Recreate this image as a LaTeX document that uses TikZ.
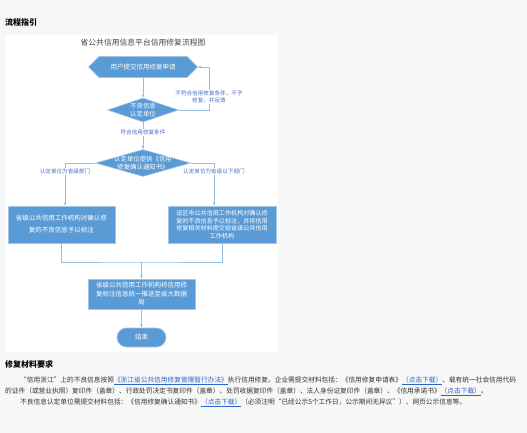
\documentclass[tikz,border=0pt]{standalone}
\usepackage{fontspec}
\setmainfont{Noto Sans CJK SC}
\usetikzlibrary{arrows.meta,calc,positioning,shapes.geometric,shapes.symbols}
\definecolor{pagebg}{RGB}{247,247,247}
\definecolor{boxblue}{RGB}{91,155,213}
\definecolor{boxedge}{RGB}{160,198,232}
\definecolor{flowline}{RGB}{150,190,228}
\definecolor{labelblue}{RGB}{68,114,196}
\definecolor{bodytext}{RGB}{51,51,51}
\definecolor{titlegray}{RGB}{70,70,70}
\definecolor{linkblue}{RGB}{45,100,200}
\newcommand{\linktext}[1]{\textcolor{linkblue}{\underline{#1}}}
\tikzset{
  flowbox/.style={rectangle,draw=boxedge,line width=0.6pt,fill=boxblue,text=white,
    font=\fontsize{6.5}{8.5}\selectfont,align=center,inner sep=1pt},
  entry/.style={signal,signal to=west and east,draw=boxedge,line width=0.6pt,
    fill=boxblue,text=white,font=\fontsize{6.5}{8}\selectfont,
    minimum width=109pt,minimum height=21pt,inner sep=0pt},
  decision/.style={diamond,draw=boxedge,line width=0.6pt,fill=boxblue,inner sep=0pt},
  decisiontext/.style={text=white,font=\fontsize{6.4}{7.8}\selectfont,align=center,inner sep=0pt},
  terminal/.style={rectangle,rounded corners=9.5pt,draw=boxedge,line width=0.6pt,
    fill=boxblue,text=white,font=\fontsize{6.5}{8}\selectfont,
    minimum width=49pt,minimum height=19pt},
  flow/.style={-{Latex[length=3pt,width=3pt]},draw=flowline,line width=0.7pt},
  joinline/.style={draw=flowline,line width=0.7pt},
  flowlabel/.style={font=\fontsize{5.6}{7}\selectfont,text=labelblue,fill=white,
    align=center,inner sep=1pt},
  heading/.style={font=\bfseries\fontsize{8}{9}\selectfont,text=black,anchor=west,inner sep=0pt},
  bodyline/.style={font=\fontsize{6.7}{8}\selectfont,text=bodytext,anchor=west,inner sep=0pt}
}

\begin{document}
\begin{tikzpicture}[x=1pt,y=-1pt]
  \useasboundingbox (0,0) rectangle (527,433);
  \fill[pagebg] (0,0) rectangle (527,433);
  \fill[white] (5,35) rectangle (278,352);
  % headings
  \node[heading] (flowhead) at (5,22) {流程指引};
  \node[font=\fontsize{7.8}{9}\selectfont,text=titlegray] (charttitle) at (143,43)
    {省公共信用信息平台信用修复流程图};
  % flow chart
  \node[entry] (apply) at (143,67) {用户提交信用修复申请};
  \node[decision,minimum width=71pt,minimum height=24pt,
    label={[decisiontext]center:不良信息\\认定单位}] (unit) at (143,110) {};
  \node[decision,minimum width=95pt,minimum height=27pt,
    label={[decisiontext]center:认定单位提供《信用\\修复确认通知书》}] (notice) at (143,163) {};
  \node[flowbox,minimum width=107pt,minimum height=37pt,
    font=\fontsize{6.5}{12}\selectfont] (provmark) at (61.5,224.5)
    {省级公共信用工作机构对确认修\\复的不良信息予以标注};
  \node[flowbox,minimum width=108pt,minimum height=37pt,
    font=\fontsize{6.1}{7.6}\selectfont] (citymark) at (222,224.5)
    {设区市公共信用工作机构对确认修\\复的不良信息予以标注，并将信用\\修复相关材料提交给省级公共信用\\工作机构};
  \node[flowbox,minimum width=107pt,minimum height=30pt] (push) at (141.5,294)
    {省级公共信用工作机构将信用修\\复标注信息统一推送至省大数据\\局};
  \node[terminal] (finish) at (141.5,337.5) {结束};
  \coordinate (loop) at (209,110);
  \coordinate (merge) at (141.5,262);
  \draw[flow] (apply.south) -- (unit.north);
  \draw[flow] (unit.east) -- (loop) |- node[flowlabel,pos=0.15]
    {不符合信用修复条件，不予\\修复，并反馈} (apply.east);
  \draw[flow] (unit.south) -- node[flowlabel,pos=0.38] {符合信用修复条件} (notice.north);
  \draw[flow] (notice.west) -| node[flowlabel,pos=0.6] {认定单位为省级部门}
    ([xshift=3.5pt]provmark.north);
  \draw[flow] (notice.east) -| node[flowlabel,pos=0.6] {认定单位为省级以下部门}
    ([xshift=-8pt]citymark.north);
  \draw[joinline] (provmark.south) |- (merge) -| (citymark.south);
  \draw[flow] (merge) -- (push.north);
  \draw[flow] (push.south) -- (finish.north);
  % requirements text
  \node[heading] (reqhead) at (5,364) {修复材料要求};
  \node[bodyline] (req1) at (20,381) {“信用浙江”上的不良信息按照\linktext{《浙江省公共信用修复管理暂行办法》}执行信用修复。企业需提交材料包括：《信用修复申请表》\linktext{（点击下载）}、载有统一社会信用代码};
  \node[bodyline] (req2) at (5,392) {的证件（或营业执照）复印件（盖章）、行政处罚决定书复印件（盖章）、处罚收据复印件（盖章）、法人身份证复印件（盖章）、《信用承诺书》\linktext{（点击下载）}。};
  \node[bodyline] (req3) at (20,403) {不良信息认定单位需提交材料包括：《信用修复确认通知书》\linktext{（点击下载）}（必须注明“已经公示5个工作日，公示期间无异议”）、网页公示信息等。};
\end{tikzpicture}
\end{document}
